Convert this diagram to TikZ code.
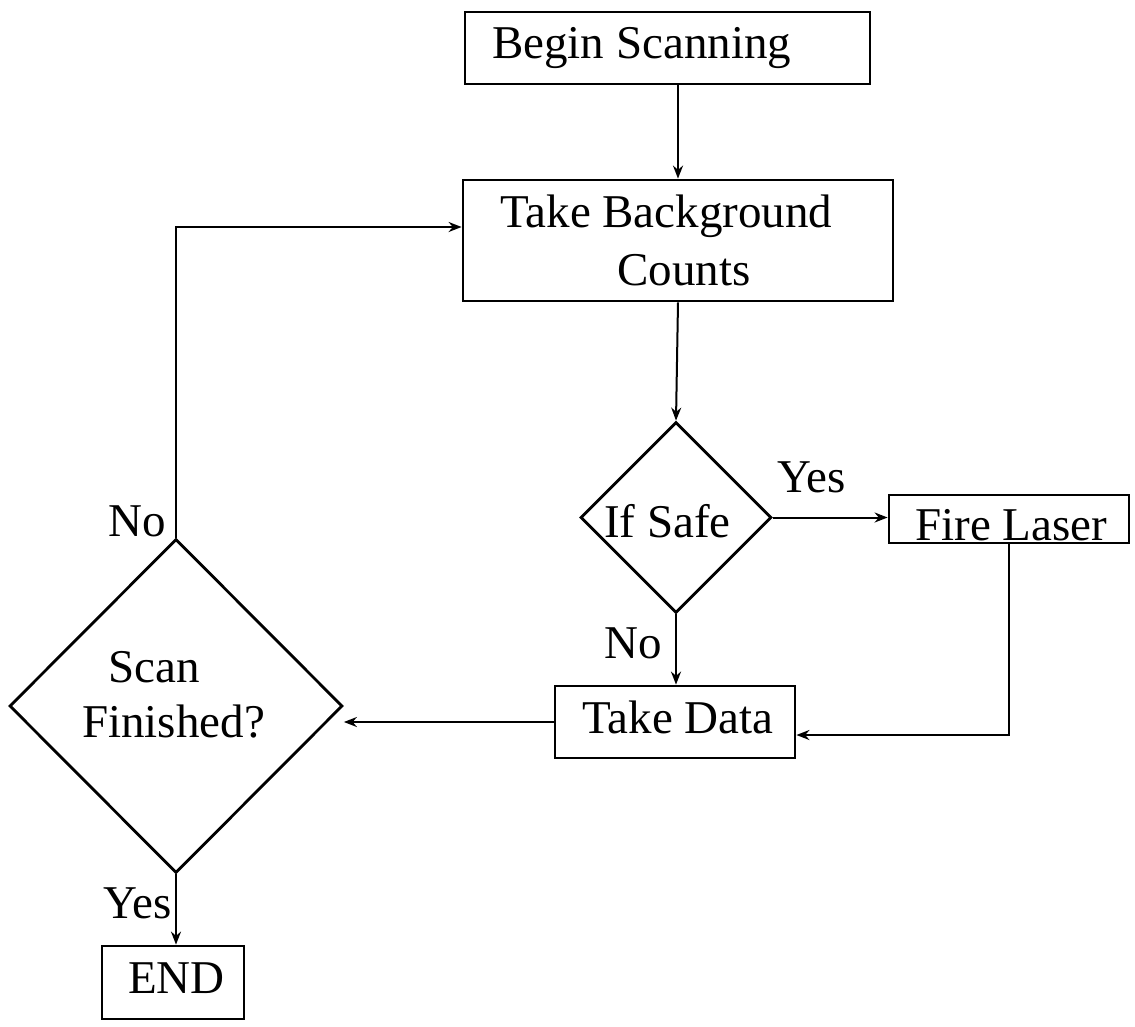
\documentclass[tikz,border=0pt]{standalone}
\usepackage{fontspec}
\setmainfont{Liberation Serif}
\usetikzlibrary{shapes.geometric,arrows.meta,calc}
\begin{document}
\begin{tikzpicture}[x=1pt,y=-1pt,
  box/.style={draw,line width=2.8pt,inner sep=0pt,rectangle},
  dia/.style={draw,line width=2.8pt,inner sep=0pt,diamond,aspect=1},
  txt/.style={anchor=base west,inner sep=0pt,font=\fontsize{47}{56}\selectfont},
  conn/.style={line width=2pt,-{Stealth[length=13pt,width=10pt]}},
  plain/.style={line width=2pt}]
\useasboundingbox[fill=white] (0,0) rectangle (1135,1026);
% shapes
\node[box,minimum width=405pt,minimum height=72pt] (begin) at (667.5,48) {};
\node[box,minimum width=430pt,minimum height=121pt] (bg) at (678,240.5) {};
\node[dia,minimum width=191pt,minimum height=191pt] (safe) at (676,517.5) {};
\node[box,minimum width=240pt,minimum height=48pt] (fire) at (1009,519) {};
\node[box,minimum width=240pt,minimum height=72pt] (data) at (675,722) {};
\node[dia,minimum width=333pt,minimum height=334pt] (scan) at (176,706) {};
\node[box,minimum width=142pt,minimum height=73pt] (end) at (173,982.5) {};
% texts
\node[txt] (tbegin) at (492,58) {Begin Scanning};
\node[txt] (tbg1) at (500,227) {Take Background};
\node[txt] (tbg2) at (617,285) {Counts};
\node[txt] (tsafe) at (604,537) {If Safe};
\node[txt] (tfire) at (915,540) {Fire Laser};
\node[txt] (tdata) at (582,733) {Take Data};
\node[txt] (tscan1) at (108,682) {Scan};
\node[txt] (tscan2) at (82,737) {Finished?};
\node[txt] (tend) at (128,993) {END};
% labels
\node[txt] (lyes1) at (777,492) {Yes};
\node[txt] (lno1) at (604,658) {No};
\node[txt] (lno2) at (108,536) {No};
\node[txt] (lyes2) at (103,918) {Yes};
% connectors
\draw[conn] (begin.south -| bg.north) -- (bg.north);
\draw[conn] (bg.south) -- (safe.north);
\draw[conn] (safe.east) -- (safe.east -| fire.west);
\draw[conn] (fire.south) |- ($(data.east)+(0,13)$);
\draw[conn] (safe.south) -- (safe.south |- data.north);
\draw[conn] (data.west) -- (data.west -| scan.east);
\draw[conn] (scan.north) |- ($(bg.west)+(0,-13.5)$);
\draw[conn] (scan.south) -- (scan.south |- end.north);
\end{tikzpicture}
\end{document}
